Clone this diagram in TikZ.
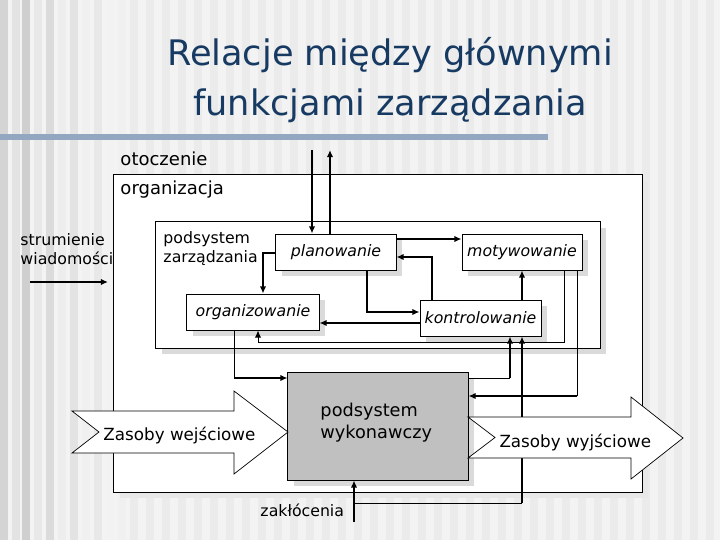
\documentclass[tikz,border=0pt]{standalone}
\usepackage{fontspec}
\setmainfont{DejaVu Sans}
\usepackage{tikz}
\usetikzlibrary{arrows.meta,positioning,calc,shadows}
\definecolor{ink}{HTML}{000000}
\definecolor{titleblue}{HTML}{173A63}
\definecolor{barblue}{HTML}{93A7C1}
\definecolor{paper}{HTML}{F3F3F3}
\definecolor{stripe}{HTML}{EBEBEB}
\definecolor{execgray}{HTML}{C0C0C0}
\definecolor{shade}{HTML}{DADADA}

\begin{document}
\begin{tikzpicture}[x=0.025cm,y=-0.025cm,line width=.7pt,
  box/.style={draw=ink,fill=white,inner sep=0pt,
    drop shadow={shadow xshift=4pt,shadow yshift=-4pt,fill=shade,opacity=1}},
  frame/.style={box,drop shadow={shadow xshift=4pt,shadow yshift=-4pt,fill=black!9,opacity=1}},
  func/.style={box,minimum height=.9cm,font=\fontsize{11.2}{13}\selectfont\itshape},
  conn/.style={-{Latex[length=5pt,width=4.5pt]},line width=1.4pt},
  thinconn/.style={-{Latex[length=5pt,width=4.5pt]},line width=.7pt},
  wire/.style={line width=.7pt},
  bigarrow/.style={draw=ink,fill=white,line width=.5pt},
  lab/.style={inner sep=0pt,font=\fontsize{11.2}{13.5}\selectfont},
  big/.style={inner sep=0pt,font=\fontsize{12.8}{15}\selectfont}]
\useasboundingbox (0,0) rectangle (720,540);
% background
\fill[paper] (0,0) rectangle (720,540);
\foreach \x in {130,146,...,714} \fill[stripe] (\x,0) rectangle ++(8,540);
\foreach \x/\g in {0/17,12/11,22/19,34/9,46/14,58/7,70/11,82/6,94/9,106/5,118/6}
  \fill[black!\g] (\x,0) rectangle ++(8,540);
% title
\node[anchor=base,text=titleblue,font=\fontsize{25}{30}\selectfont] (title1) at (390,65) {Relacje między głównymi};
\node[anchor=base,text=titleblue,font=\fontsize{25}{30}\selectfont] (title2) at (390,115) {funkcjami zarządzania};
\fill[barblue] (0,134) rectangle (548,140);

% frames
\node[frame,minimum width=13.2cm,minimum height=7.925cm] (orgbox) at (378,333.5) {};
\node[box,minimum width=11.1cm,minimum height=3.15cm] (mgmt) at (378,285) {};
\node[big,anchor=base west] (envlab) at (120,165) {otoczenie};
\node[big,anchor=base west] (orglab) at (120,194) {organizacja};
\node[lab,anchor=base west,align=left] (mgmtlab) at (163,262) {podsystem\\zarządzania};

% functions
\node[func,minimum width=3cm] (plan) at (336,252) {planowanie};
\node[func,minimum width=3cm] (mot) at (522,252) {motywowanie};
\node[func,minimum width=3.3cm] (org) at (253,312) {organizowanie};
\node[func,minimum width=3.025cm] (kon) at (480.5,318) {kontrolowanie};
\node[box,fill=execgray,minimum width=4.5cm,minimum height=2.7cm] (wyk) at (378,426) {};
\node[anchor=base west,align=left,inner sep=0pt,font=\fontsize{12.6}{15}\selectfont] (wyklab) at (320,438) {podsystem\\wykonawczy};

% connectors
\coordinate (envin) at (312,150);
\coordinate (envout) at (330,150);
\draw[conn] (envin) -- (plan.north -| envin);
\draw[conn] (plan.north -| envout) -- (envout);
\draw[conn] (plan.east |- 0,239) -- (mot.west |- 0,239);
\draw[conn] (kon.north -| 432,0) |- (plan.east |- 0,257);
\draw[conn] (plan.west |- 0,253) -| (org.north -| 263,0);
\draw[conn] (plan.south -| 367,0) |- (kon.west |- 0,312);
\draw[conn] (kon.west |- 0,323) -- (org.east |- 0,323);
\draw[conn] (kon.north -| 522,0) -- (mot.south -| 522,0);
\draw[thinconn] (mot.south -| 564,0) |- (258,342) -- (org.south -| 258,0);
\coordinate (motdown) at (577,396);
\draw[wire] (mot.south -| motdown) -- (motdown);
\draw[conn] (motdown) -- (wyk.east |- motdown);
\coordinate (orgdown) at (234,378);
\draw[wire] (org.south -| orgdown) -- (orgdown);
\draw[conn] (orgdown) -- (wyk.west |- orgdown);
\coordinate (kondown) at (510,378);
\draw[wire] (wyk.east |- kondown) -- (kondown);
\draw[conn] (kondown) -- (kon.south -| kondown);
\coordinate (outtop) at (522,417);
\coordinate (outbot) at (522,458);
\coordinate (outturn) at (522,503);
\coordinate (zak) at (354,522);
\draw[conn] (outtop) -- (kon.south -| outtop);
\draw[line width=1.2pt] (outbot) -- (outturn);
\draw[wire] (outturn) -- (zak |- outturn);
\draw[conn] (zak) -- (wyk.south -| zak);
\node[lab,anchor=base west] (zaklab) at (260,516) {zakłócenia};

% message stream
\coordinate (msgstart) at (30,282);
\coordinate (msgend) at (108,282);
\draw[conn] (msgstart) -- (msgend);
\node[lab,anchor=base west,align=left] (msglab) at (20,264) {strumienie\\wiadomości};

% resources
\draw[bigarrow] (72,411) -- (234,411) -- (234,391) -- (288,432) -- (234,474) -- (234,453) -- (72,453) -- (99,432) -- cycle;
\draw[bigarrow] (468,417) -- (631,417) -- (631,397) -- (683,438) -- (631,479) -- (631,458) -- (468,458) -- (495,437.5) -- cycle;
\node[anchor=base west,inner sep=0pt,font=\fontsize{11.9}{14}\selectfont] (inlab) at (103,440) {Zasoby wejściowe};
\node[anchor=base west,inner sep=0pt,font=\fontsize{11.9}{14}\selectfont] (outlab) at (499,447) {Zasoby wyjściowe};
\end{tikzpicture}
\end{document}
